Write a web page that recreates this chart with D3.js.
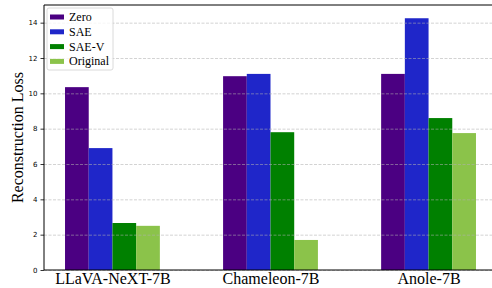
<!DOCTYPE html>
<html>
<head>
<meta charset="utf-8">
<script src="https://cdn.jsdelivr.net/npm/d3@7"></script>
<style>
  body { margin: 0; background: #fff; }
  svg { display: block; }
</style>
</head>
<body>
<div id="chart"></div>
<script>
// data
const models = ['LLaVA-NeXT-7B', 'Chameleon-7B', 'Anole-7B'];
const seriesNames = ['Zero', 'SAE', 'SAE-V', 'Original'];
const zeroLoss = [10.35, 10.97, 11.1];
const saeLoss = [6.9, 11.1, 14.25];
const saeVLoss = [2.66, 7.8, 8.6];
const originalLoss = [2.5, 1.7, 7.75];
const yTicks = [0, 2, 4, 6, 8, 10, 12, 14];

const colors = ['#4b0082', '#1f26c9', '#008000', '#8bc34a'];
const series = [zeroLoss, saeLoss, saeVLoss, originalLoss];

const W = 492, H = 288;
const margin = { top: 5, left: 44, bottom: 18 };
const plotRight = 497; // right spine falls just outside the picture

const svg = d3.select('#chart').append('svg')
  .attr('width', W)
  .attr('height', H);

const x = d3.scaleLinear().domain([-0.433, 2.433]).range([margin.left, plotRight]);
const y = d3.scaleLinear().domain([0, 15]).range([H - margin.bottom, margin.top]);
const barW = 0.15;

// bars
series.forEach((vals, i) => {
  svg.append('g').selectAll('rect')
    .data(vals)
    .enter()
    .append('rect')
    .attr('x', (d, j) => x(j + (i - 2) * barW))
    .attr('width', x(barW) - x(0))
    .attr('y', d => y(d))
    .attr('height', d => y(0) - y(d))
    .attr('fill', colors[i]);
});

// grid on top of bars
svg.append('g')
  .selectAll('line')
  .data(yTicks)
  .enter()
  .append('line')
  .attr('x1', margin.left)
  .attr('x2', plotRight)
  .attr('y1', d => y(d) + 0.5)
  .attr('y2', d => y(d) + 0.5)
  .attr('stroke', '#b0b0b0')
  .attr('stroke-opacity', 0.7)
  .attr('stroke-width', 0.8)
  .attr('stroke-dasharray', '3,1.5');

// y axis
const yAxis = d3.axisLeft(y).tickValues(yTicks).tickSize(3.5).tickPadding(3);
const gy = svg.append('g')
  .attr('transform', `translate(${margin.left},0)`)
  .call(yAxis);
gy.select('.domain').remove();
gy.selectAll('text')
  .attr('font-family', 'DejaVu Sans')
  .attr('font-size', 7)
  .attr('fill', '#000');
gy.selectAll('line').attr('stroke', '#000').attr('stroke-width', 0.8);

// x axis (no visible tick marks in the reference)
const xAxis = d3.axisBottom(x).tickValues([0, 1, 2]).tickFormat(i => models[i]).tickSize(0).tickPadding(3);
const gx = svg.append('g')
  .attr('transform', `translate(0,${y(0)})`)
  .call(xAxis);
gx.select('.domain').remove();
gx.selectAll('text')
  .attr('font-family', 'Liberation Serif')
  .attr('font-size', 16)
  .attr('fill', '#000');

// spines
svg.append('line')
  .attr('x1', margin.left).attr('x2', margin.left)
  .attr('y1', y(15)).attr('y2', y(0))
  .attr('stroke', '#000').attr('stroke-width', 1);
svg.append('line')
  .attr('x1', margin.left).attr('x2', plotRight)
  .attr('y1', y(15)).attr('y2', y(15))
  .attr('stroke', '#000').attr('stroke-width', 1);
svg.append('line')
  .attr('x1', margin.left).attr('x2', plotRight)
  .attr('y1', y(0)).attr('y2', y(0))
  .attr('stroke', '#000').attr('stroke-width', 1);

// y label
svg.append('text')
  .attr('transform', `translate(23,${(y(0) + y(15)) / 2}) rotate(-90)`)
  .attr('text-anchor', 'middle')
  .attr('font-family', 'Liberation Serif')
  .attr('font-size', 16)
  .text('Reconstruction Loss');

// legend
const legend = svg.append('g').attr('transform', 'translate(47,8)');
legend.append('rect')
  .attr('width', 66)
  .attr('height', 62)
  .attr('rx', 2)
  .attr('fill', '#fff')
  .attr('fill-opacity', 0.8)
  .attr('stroke', '#d0d0d0')
  .attr('stroke-width', 0.8);
seriesNames.forEach((name, i) => {
  const row = legend.append('g').attr('transform', `translate(3,${9 + i * 14.8})`);
  row.append('rect')
    .attr('x', 0).attr('y', -2.5)
    .attr('width', 14).attr('height', 5)
    .attr('fill', colors[i]);
  row.append('text')
    .attr('x', 19)
    .attr('y', 4)
    .attr('font-family', 'Liberation Serif')
    .attr('font-size', 12)
    .text(name);
});
</script>
</body>
</html>
